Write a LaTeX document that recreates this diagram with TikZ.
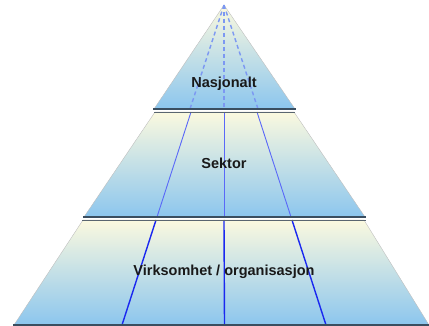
\documentclass[tikz,border=0pt]{standalone}
\usepackage{fontspec}
\setmainfont{Liberation Sans}
\begin{document}
\begin{tikzpicture}[x=1pt,y=-1pt,
  tier/.style={top color=tierTop, bottom color=tierBot, draw=black!25, line width=0.4pt},
  sepdark/.style={draw=sepA, line width=1.6pt},
  septhin/.style={draw=sepB, line width=1pt},
  lbl/.style={font=\bfseries\fontsize{14.5}{16}\selectfont, text=black!90, inner sep=0pt},
  ray1/.style={draw=rayA, line width=1.4pt, dash pattern=on 4pt off 3pt},
  ray2/.style={draw=rayB, line width=0.9pt},
  ray3/.style={draw=rayC, line width=1.4pt}]
\definecolor{tierTop}{HTML}{FBF9DF}
\definecolor{tierBot}{HTML}{8CC6EE}
\definecolor{sepA}{HTML}{3A4E60}
\definecolor{sepB}{HTML}{5A6670}
\definecolor{rayA}{HTML}{7C98F2}
\definecolor{rayB}{HTML}{5A68F8}
\definecolor{rayC}{HTML}{1A28F0}
\useasboundingbox (0,0) rectangle (429,326);
\clip (0,0) rectangle (429,326);
% tiers
\path[tier] (224,5) -- (295,109) -- (154,109) -- cycle;
\path[tier] (155,112) -- (294,112) -- (365,217) -- (84,217) -- cycle;
\path[tier] (83,220) -- (364,220) -- (429,325) -- (14,325) -- cycle;
% rays
\coordinate (apex) at (224,5);
\coordinate (l1) at (190,109); \coordinate (c1) at (224,109); \coordinate (r1) at (258,109);
\coordinate (l2a) at (191,112); \coordinate (c2a) at (224,112); \coordinate (r2a) at (257,112);
\coordinate (l2b) at (157,217); \coordinate (c2b) at (224,217); \coordinate (r2b) at (291,217);
\coordinate (l3a) at (156,220); \coordinate (c3a) at (224,220); \coordinate (r3a) at (292,220);
\coordinate (l3b) at (122,325); \coordinate (c3b) at (224.5,325); \coordinate (r3b) at (326,325);
\draw[ray1] (apex) -- (l1);
\draw[ray1] (apex) -- (c1);
\draw[ray1] (apex) -- (r1);
\draw[ray2] (l2a) -- (l2b);
\draw[ray2] (c2a) -- (c2b);
\draw[ray2] (r2a) -- (r2b);
\draw[ray3] (l3a) -- (l3b);
\draw[ray3] (c3a) -- (c3b);
\draw[ray3] (r3a) -- (r3b);
% separators
\coordinate (s1a) at (153,109.2); \coordinate (s1b) at (296,109.2);
\coordinate (t1a) at (154,112.3); \coordinate (t1b) at (295,112.3);
\coordinate (s2a) at (83,216.8); \coordinate (s2b) at (366,216.8);
\coordinate (t2a) at (82,220.2); \coordinate (t2b) at (366,220.2);
\coordinate (s3a) at (13,325.2); \coordinate (s3b) at (429,325.2);
\draw[sepdark] (s1a) -- (s1b);
\draw[septhin] (t1a) -- (t1b);
\draw[sepdark] (s2a) -- (s2b);
\draw[septhin] (t2a) -- (t2b);
\draw[sepdark] (s3a) -- (s3b);
% labels
\node[lbl] (n1) at (224,84) {Nasjonalt};
\node[lbl] (n2) at (224,163) {Sektor};
\node[lbl] (n3) at (224,272) {Virksomhet / organisasjon};
\end{tikzpicture}
\end{document}
